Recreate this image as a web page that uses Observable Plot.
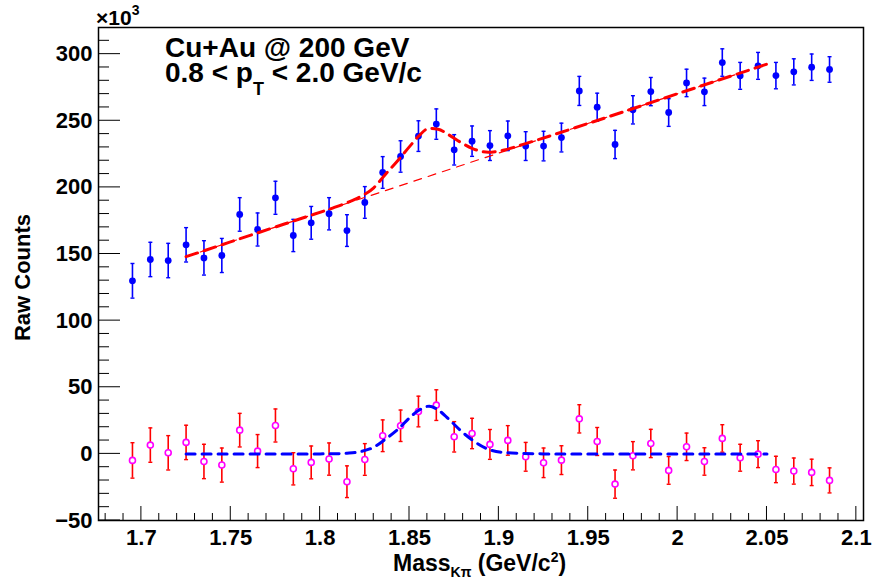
<!DOCTYPE html>
<html><head><meta charset="utf-8">
<script src="https://cdn.jsdelivr.net/npm/d3@7"></script>
<script src="https://cdn.jsdelivr.net/npm/@observablehq/plot@0.6"></script>
<style>html,body{margin:0;padding:0;background:#fff;} svg{display:block}</style>
</head><body><div id="chart"></div>
<script>
// Bin centres (GeV/c^2)
const massBins = [1.695,1.705,1.715,1.725,1.735,1.745,1.755,1.765,1.775,1.785,1.795,1.805,1.815,1.825,1.835,1.845,1.855,1.865,1.875,1.885,1.895,1.905,1.915,1.925,1.935,1.945,1.955,1.965,1.975,1.985,1.995,2.005,2.015,2.025,2.035,2.045,2.055,2.065,2.075,2.085];
// Raw (same-event) counts, x10^3
const rawCounts = [129.9,145.9,145.1,156.9,147.1,148.9,179.7,168.4,192.2,163.9,173.4,180.2,167.6,188.7,211.2,223.2,238.5,247.5,228.2,234.7,231.4,238.7,231.0,231.0,237.4,272.4,260.2,232.2,258.2,271.9,256.2,278.4,271.7,293.7,283.7,291.2,283.9,286.7,290.2,288.5];
const rawErrors = [13.0,12.9,12.9,12.9,12.9,12.8,12.6,12.4,12.4,12.1,12.3,12.1,11.9,11.9,11.9,11.8,11.5,11.4,11.4,11.4,11.2,11.1,10.8,11.1,10.8,10.9,10.5,10.6,10.6,10.6,10.4,10.3,10.3,10.3,10.1,10.1,9.9,9.8,9.9,9.6];
// Background-subtracted counts, x10^3
const subCounts = [-4.9,6.6,0.8,8.6,-5.7,-8.4,17.8,2.1,21.3,-11.2,-6.4,-3.9,-20.9,-4.2,13.6,21.1,31.8,36.6,12.8,15.3,7.1,10.1,-2.2,-6.7,-4.7,26.3,9.3,-22.7,-1.4,7.8,-12.4,5.3,-5.7,11.6,-2.9,-0.2,-11.7,-12.9,-13.9,-19.9];
const subErrors = [13.3,12.9,12.9,12.9,12.9,12.8,12.6,12.4,12.4,12.1,12.3,12.1,11.9,11.9,11.9,11.8,11.5,11.5,11.4,11.4,11.2,11.1,10.8,11.1,10.8,10.6,10.5,10.6,10.6,10.6,10.4,10.3,10.3,10.3,10.1,10.1,9.9,9.8,9.9,9.4];
// Fit curves
const fitTotalX = [1.725,1.735,1.749,1.762,1.780,1.792,1.807,1.815,1.823,1.830,1.836,1.844,1.850,1.855,1.861,1.866,1.872,1.879,1.885,1.894,1.903,1.914,1.950,2.000,2.050];
const fitTotalY = [148,152.4,158.7,164.5,172.5,177.8,184.5,188.5,193.4,199.7,209,221,230.6,238.3,244.3,243.7,239.4,233.5,229.3,226.4,228.1,232.5,248,270.3,292.5];
const fitBgX = [1.725,2.050];
const fitBgY = [148,292.5];
const fitSigX = [1.725,1.800,1.808,1.815,1.823,1.830,1.836,1.844,1.850,1.855,1.861,1.866,1.872,1.879,1.885,1.894,1.903,1.914,1.925,2.050];
const fitSigY = [0,0,0.1,0.5,1.8,5,10.5,19,27,32.5,35.8,33,26,17,10.5,3.5,1,0.3,0,0];
// Axis ticks
const xTicks = [1.7,1.75,1.8,1.85,1.9,1.95,2.0,2.05,2.1];
const xTickLabels = ["1.7","1.75","1.8","1.85","1.9","1.95","2","2.05","2.1"];
const yTicks = [-50,0,50,100,150,200,250,300];
const yTickLabels = ["\u221250","0","50","100","150","200","250","300"];

const xMinor = d3.range(168, 211).map(v => v / 100).filter(v => !xTicks.some(t => Math.abs(t - v) < 1e-9));
const yMinor = d3.range(-40, 320, 10).filter(v => v % 50 !== 0);

const raw = massBins.map((x, i) => ({x, v: rawCounts[i], e: rawErrors[i]}));
const sub = massBins.map((x, i) => ({x, v: subCounts[i], e: subErrors[i]}));
const total = fitTotalX.map((x, i) => ({x, y: fitTotalY[i]}));
const bg = fitBgX.map((x, i) => ({x, y: fitBgY[i]}));
const sig = fitSigX.map((x, i) => ({x, y: fitSigY[i]}));

const cap = {draw(ctx, size) { const r = Math.sqrt(size / Math.PI); ctx.moveTo(-r, 0); ctx.lineTo(r, 0); }};
const font = "'Liberation Sans', Arial, Helvetica, sans-serif";

function errMarks(data, barColor) {
  return [
    Plot.ruleX(data, {x: "x", y1: d => d.v - d.e, y2: d => d.v + d.e, stroke: barColor, strokeWidth: 1.6}),
    Plot.dot(data, {x: "x", y: d => d.v + d.e, symbol: cap, r: 2, stroke: barColor, strokeWidth: 1.4, fill: "none"}),
    Plot.dot(data, {x: "x", y: d => d.v - d.e, symbol: cap, r: 2, stroke: barColor, strokeWidth: 1.4, fill: "none"})
  ];
}

const plot = Plot.plot({
  width: 874, height: 586,
  marginLeft: 98, marginRight: 11, marginTop: 27, marginBottom: 66,
  style: {fontFamily: font, background: "white", color: "black"},
  x: {domain: [1.676, 2.104], label: null},
  y: {domain: [-50, 320], label: null},
  marks: [
    Plot.axisX(xTicks, {tickSize: 0, tickPadding: 8.6, tickFormat: d => xTickLabels[xTicks.findIndex(t => Math.abs(t - d) < 1e-9)], fontSize: 22, fontWeight: "bold", label: null}),
    Plot.axisY(yTicks, {tickSize: 0, tickPadding: 6, tickFormat: d => yTickLabels[yTicks.indexOf(d)], fontSize: 22, fontWeight: "bold", label: null}),
    ...errMarks(raw, "#0000ff"),
    Plot.dot(raw, {x: "x", y: "v", r: 3.4, fill: "#0000ff", stroke: "none"}),
    ...errMarks(sub, "#ff0000"),
    Plot.dot(sub, {x: "x", y: "v", r: 3, fill: "white", stroke: "#ff00ff", strokeWidth: 1.6}),
    Plot.line(bg, {x: "x", y: "y", stroke: "#ff0000", strokeWidth: 1.2, strokeDasharray: "8,7"}),
    Plot.line(total, {x: "x", y: "y", stroke: "#ff0000", strokeWidth: 3, strokeDasharray: "12,7", curve: "monotone-x"}),
    Plot.line(sig, {x: "x", y: "y", stroke: "#0000ff", strokeWidth: 3, strokeDasharray: "9,7", curve: "monotone-x"}),
    Plot.frame({stroke: "black", strokeWidth: 1.5})
  ]
});

const svg = d3.select(plot);
const sx = plot.scale("x"), sy = plot.scale("y");
const [px0, px1] = sx.range, [py0, py1] = sy.range;
const left = Math.min(px0, px1), bottom = Math.max(py0, py1);
const tg = svg.append("g").attr("stroke", "black").attr("stroke-width", 1);
const tick = (x1, y1, x2, y2) => tg.append("line").attr("x1", x1).attr("y1", y1).attr("x2", x2).attr("y2", y2);
xMinor.forEach(v => { const p = sx.apply(v); tick(p, bottom, p, bottom - 7); });
xTicks.forEach(v => { const p = sx.apply(v); tick(p, bottom, p, bottom - 14); });
yMinor.forEach(v => { const p = sy.apply(v); tick(left, p, left + 11, p); });
yTicks.forEach(v => { const p = sy.apply(v); tick(left, p, left + 22, p); });

const addText = (x, y, size) => svg.append("text").attr("x", x).attr("y", y)
  .attr("font-size", size).attr("font-weight", "bold").attr("font-family", font)
  .attr("fill", "black").attr("text-anchor", "start");

addText(165, 57.3, 28).text("Cu+Au @ 200 GeV");
const t2 = addText(165, 81.7, 28);
t2.append("tspan").text("0.8 < p");
t2.append("tspan").attr("font-size", 18).attr("dy", 13).text("T");
t2.append("tspan").attr("dy", -13).text(" < 2.0 GeV/c");

const xl = addText(393, 570.7, 23);
xl.append("tspan").text("Mass");
xl.append("tspan").attr("font-size", 14).attr("dy", 6).text("K\u03c0");
xl.append("tspan").attr("dy", -6).text(" (GeV/c");
xl.append("tspan").attr("font-size", 14).attr("dy", -9).text("2");
xl.append("tspan").attr("dy", 9).text(")");

addText(0, 0, 22).attr("text-anchor", "middle")
  .attr("transform", "translate(30,277.5) rotate(-90)").text("Raw Counts");

const mult = addText(96, 25, 21);
mult.append("tspan").text("\u00d710");
mult.append("tspan").attr("font-size", 14).attr("dy", -10).text("3");

document.getElementById("chart").appendChild(plot);
</script>
</body></html>
